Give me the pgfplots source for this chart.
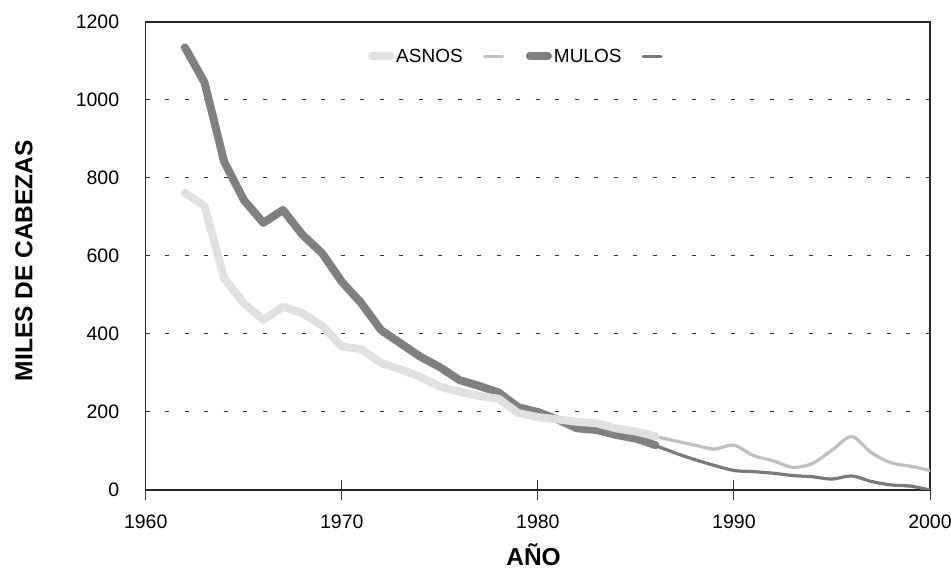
\documentclass[border=0pt]{standalone}
\usepackage{fontspec}
\setmainfont{Liberation Sans}
\usepackage{pgfplots}
\pgfplotsset{compat=1.18}
\usepackage{pgfplotstable}
\definecolor{asnosthick}{HTML}{E0E0E0}
\definecolor{asnosthin}{HTML}{C0C0C0}
\definecolor{mulosthick}{HTML}{808080}
\definecolor{mulosthin}{HTML}{7A7A7A}
\pgfplotstableread{
year val
1962 762
1963 728
1964 543
1965 479
1966 436
1967 470
1968 453
1969 421
1970 368
1971 361
1972 326
1973 309
1974 290
1975 265
1976 252
1977 241
1978 234
1979 197
1980 187
1981 181
1982 175
1983 171
1984 158
1985 150
1986 138
}\asnosA
\pgfplotstableread{
year val
1986 137
1987 126
1988 115
1989 105
1990 115
1991 88
1992 75
1993 58
1994 68
1995 102
1996 137
1997 96
1998 70
1999 61
2000 50
}\asnosB
\pgfplotstableread{
year val
1962 1135
1963 1045
1964 842
1965 744
1966 685
1967 718
1968 654
1969 607
1970 534
1971 479
1972 410
1973 376
1974 342
1975 315
1976 282
1977 267
1978 250
1979 212
1980 200
1981 181
1982 158
1983 154
1984 141
1985 132
1986 115
}\mulosA
\pgfplotstableread{
year val
1986 114
1987 95
1988 78
1989 63
1990 50
1991 47
1992 43
1993 37
1994 34
1995 28
1996 36
1997 22
1998 13
1999 10
2000 0
}\mulosB
\begin{document}
\begin{tikzpicture}
\path[use as bounding box] (0,0) rectangle (951pt,570pt);
\begin{axis}[
  at={(145.7pt,80pt)}, anchor=south west,
  scale only axis, width=784.3pt, height=468pt,
  xmin=1960, xmax=2000, ymin=0, ymax=1200,
  xtick={1960,1970,1980,1990,2000},
  ytick={0,200,400,600,800,1000,1200},
  xtick pos=bottom, ytick pos=left,
  xtick align=center, ytick align=inside,
  xtick style={/pgfplots/major tick length=20pt, line width=1pt, black!80},
  ytick style={/pgfplots/major tick length=4pt, line width=1pt, black!80},
  /pgf/number format/1000 sep={},
  /pgf/number format/assume math mode=true,
  ticklabel style={font=\fontsize{19.5}{21}\selectfont},
  yticklabel style={anchor=east, xshift=-23pt},
  xticklabel style={anchor=base, yshift=-36pt},
  axis line style={line width=1.2pt, black!85},
  ymajorgrids,
  major grid style={dash pattern=on 4pt off 15.5pt, line width=1pt, black!80},
  xlabel={\textbf{AÑO}},
  ylabel={\textbf{MILES DE CABEZAS}},
  every axis x label/.style={at={(axis description cs:0.4945,0)}, anchor=base, yshift=-76pt, font=\fontsize{24.5}{26}\selectfont},
  every axis y label/.style={at={(axis description cs:0,0.49)}, xshift=-121.7pt, rotate=90, anchor=center, font=\fontsize{24.5}{26}\selectfont},
  legend columns=4,
  legend style={draw=none, fill=none, at={(axis description cs:0.474,0.927)}, anchor=center,
    font=\fontsize{19}{21}\selectfont,
    /tikz/every even column/.append style={column sep=18pt},
    nodes={inner sep=2pt}},
  legend image code/.code={\draw[#1, line cap=round] (0pt,0pt) -- (18pt,0pt);},
]
\addplot[mulosthick, line width=8pt, line cap=round, line join=round, forget plot] table[x=year,y=val] {\mulosA};
\addplot[mulosthin, line width=3.2pt, line cap=round, smooth, tension=0.5, forget plot] table[x=year,y=val] {\mulosB};
\addplot[asnosthin, line width=3.2pt, line cap=round, smooth, tension=0.5, forget plot] table[x=year,y=val] {\asnosB};
\addplot[asnosthick, line width=8pt, line cap=round, line join=round, forget plot] table[x=year,y=val] {\asnosA};
\addlegendimage{asnosthick, line width=8pt}
\addlegendentry{ASNOS}
\addlegendimage{asnosthin, line width=3.2pt}
\addlegendentry{}
\addlegendimage{mulosthick, line width=8pt}
\addlegendentry{MULOS}
\addlegendimage{mulosthin, line width=3.2pt}
\addlegendentry{}
\end{axis}
\end{tikzpicture}
\end{document}
